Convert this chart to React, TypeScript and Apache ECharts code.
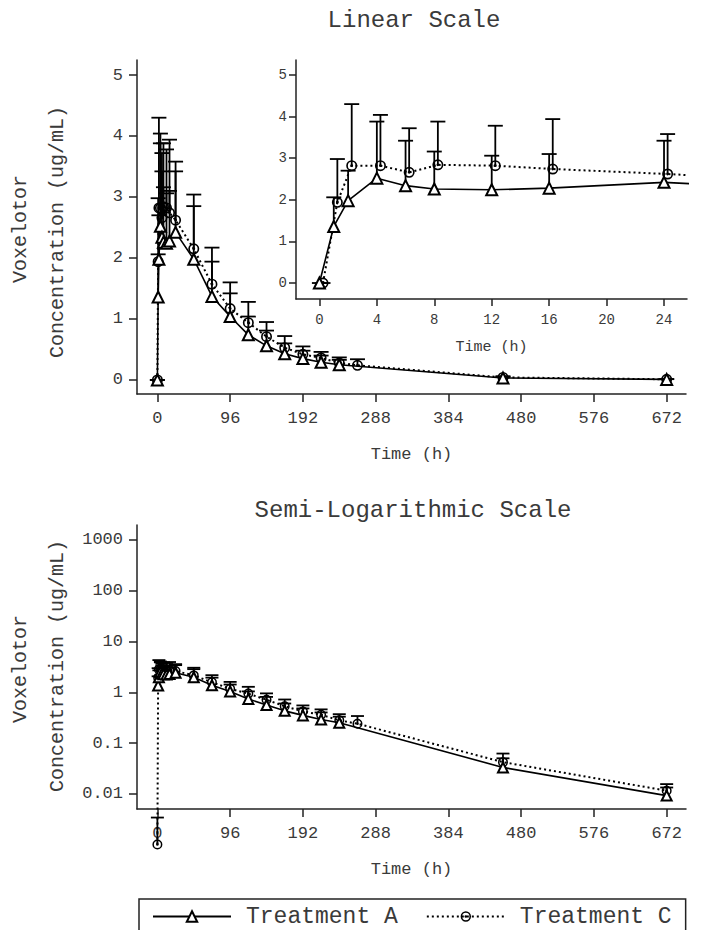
import React, { useEffect, useRef } from "react";
import * as echarts from "echarts";

// ---- Data (hours, ug/mL) ----
const timesA = [0, 1, 2, 4, 6, 8, 12, 16, 24, 48, 72, 96, 120, 144, 168, 192, 216, 240, 456, 672];
const meanA = [0, 1.36, 1.98, 2.52, 2.34, 2.26, 2.24, 2.28, 2.42, 1.98, 1.37, 1.04, 0.74, 0.56, 0.43, 0.35, 0.29, 0.25, 0.033, 0.0092];
const upperA = [0, 2.06, 2.7, 3.88, 3.42, 3.16, 3.06, 3.1, 3.42, 2.85, 1.94, 1.42, 1.04, 0.81, 0.6, 0.48, 0.4, 0.33, 0.05, 0.0133];

const timesC = [0, 1, 2, 4, 6, 8, 12, 16, 24, 48, 72, 96, 120, 144, 168, 192, 216, 240, 264, 456, 672];
const meanC = [0, 1.94, 2.82, 2.82, 2.66, 2.84, 2.82, 2.74, 2.62, 2.15, 1.57, 1.17, 0.94, 0.71, 0.53, 0.42, 0.36, 0.28, 0.24, 0.042, 0.0115];
const upperC = [0, 2.98, 4.3, 4.04, 3.72, 3.88, 3.78, 3.94, 3.58, 3.04, 2.17, 1.6, 1.28, 0.95, 0.72, 0.55, 0.46, 0.37, 0.34, 0.062, 0.0155];

// zero concentration of Treatment C as drawn on the semi-log panel
const logZeroC = 0.001;
const logZeroUpperC = 0.0034;

// display offset of Treatment C in the inset (h)
const insetOffsetC = 0.25;

// ticks
const mainTimeTicks = [0, 96, 192, 288, 384, 480, 576, 672];
const insetTimeTicks = [0, 4, 8, 12, 16, 20, 24];
const linearTicks = [0, 1, 2, 3, 4, 5];
const logTicks = [0.01, 0.1, 1, 10, 100, 1000];

const nameA = "Treatment A";
const nameC = "Treatment C";

const FONT = "'Liberation Mono', 'Courier New', monospace";
const TXT = "#3a3a3a";
const AX = "#222";

const ringDot =
  "path://M10,0A10,10,0,1,1,-10,0A10,10,0,1,1,10,0ZM7,0A7,7,0,1,0,-7,0A7,7,0,1,0,7,0ZM2.6,0A2.6,2.6,0,1,1,-2.6,0A2.6,2.6,0,1,1,2.6,0Z";

function pairs(t: number[], v: number[], off = 0) {
  return t.map((x, i) => [x + off, v[i]]);
}
function bars(t: number[], m: number[], u: number[], off = 0) {
  return t.map((x, i) => [x + off, m[i], u[i]]);
}
function logPairs(t: number[], v: number[], zero: number | null) {
  return t.map((x, i) => {
    const val = v[i] > 0 ? v[i] : zero;
    return val == null ? [x, null] : [x, Math.log10(val)];
  });
}
function logBars(t: number[], m: number[], u: number[], zero: number | null, zeroUp: number | null) {
  const out: any[] = [];
  t.forEach((x, i) => {
    if (m[i] > 0) out.push([x, Math.log10(m[i]), Math.log10(u[i])]);
    else if (zero != null && zeroUp != null) out.push([x, Math.log10(zero), Math.log10(zeroUp)]);
  });
  return out;
}

function xAxisCfg(gridIndex: number, min: number, max: number, ticks: number[], fs: number, nameFs: number, nameGap: number, margin: number, tickLen: number) {
  return {
    type: "value",
    gridIndex,
    min,
    max,
    name: "Time (h)",
    nameLocation: "middle",
    nameGap,
    nameTextStyle: { fontFamily: FONT, fontSize: nameFs, color: TXT },
    axisLine: { show: true, onZero: false, lineStyle: { color: AX, width: 1.5 } },
    axisTick: { show: true, length: tickLen, customValues: ticks, lineStyle: { color: AX, width: 1.5 } },
    axisLabel: { customValues: ticks, fontFamily: FONT, fontSize: fs, color: TXT, margin },
    splitLine: { show: false },
  };
}
function yAxisCfg(gridIndex: number, min: number, max: number, ticks: number[], fs: number, margin: number, tickLen: number, fmt?: (v: number) => string) {
  return {
    type: "value",
    gridIndex,
    min,
    max,
    axisLine: { show: true, onZero: false, lineStyle: { color: AX, width: 1.5 } },
    axisTick: { show: true, length: tickLen, customValues: ticks, lineStyle: { color: AX, width: 1.5 } },
    axisLabel: { customValues: ticks, fontFamily: FONT, fontSize: fs, color: TXT, margin, formatter: fmt },
    splitLine: { show: false },
  };
}

function errorBarSeries(xi: number, yi: number, data: any[], half: number, clip = true) {
  return {
    type: "custom",
    xAxisIndex: xi,
    yAxisIndex: yi,
    clip,
    z: 2,
    silent: true,
    encode: { x: 0, y: [1, 2] },
    data,
    renderItem: (params: any, api: any) => {
      const p1 = api.coord([api.value(0), api.value(1)]);
      const p2 = api.coord([api.value(0), api.value(2)]);
      const st = { stroke: "#000", lineWidth: 1.8 };
      return {
        type: "group",
        children: [
          { type: "line", shape: { x1: p1[0], y1: p1[1], x2: p2[0], y2: p2[1] }, style: st },
          { type: "line", shape: { x1: p2[0] - half, y1: p2[1], x2: p2[0] + half, y2: p2[1] }, style: st },
        ],
      };
    },
  };
}

function lineA(xi: number, yi: number, data: any[], clip = true, size = 11) {
  return {
    type: "line",
    name: nameA,
    xAxisIndex: xi,
    yAxisIndex: yi,
    data,
    clip,
    z: 4,
    symbol: "triangle",
    symbolSize: size,
    connectNulls: false,
    lineStyle: { color: "#000", width: 1.6, type: "solid" },
    itemStyle: { color: "#fff", borderColor: "#000", borderWidth: 2 },
  };
}
function lineC(xi: number, yi: number, data: any[], clip = true, size = 11) {
  return {
    type: "line",
    name: nameC,
    xAxisIndex: xi,
    yAxisIndex: yi,
    data,
    clip,
    z: 3,
    symbol: ringDot,
    symbolSize: size,
    lineStyle: { color: "#000", width: 2, type: [2, 3] },
    itemStyle: { color: "#000", borderWidth: 0 },
  };
}

export default function App() {
  const ref = useRef<HTMLDivElement>(null);
  useEffect(() => {
    if (!ref.current) return;
    const chart = echarts.init(ref.current, undefined, { renderer: "svg" });

    const logFmt = (v: number) => {
      const p = Math.pow(10, v);
      const found = logTicks.find((t) => Math.abs(Math.log10(t) - v) < 1e-6);
      return String(found ?? p);
    };

    const option: any = {
      animation: false,
      backgroundColor: "#fff",
      grid: [
        { left: 137, top: 60, width: 549, height: 334 },
        { left: 296, top: 60, width: 391, height: 239 },
        { left: 137, top: 525, width: 549, height: 284 },
      ],
      xAxis: [
        xAxisCfg(0, -26.9, 697.5, mainTimeTicks, 17, 17, 52, 16, 8),
        xAxisCfg(1, -1.63, 25.6, insetTimeTicks, 14, 15, 41, 14, 7),
        xAxisCfg(2, -26.9, 697.5, mainTimeTicks, 17, 17, 52, 16, 8),
      ],
      yAxis: [
        yAxisCfg(0, -0.23, 5.246, linearTicks, 17, 14, 8),
        yAxisCfg(1, -0.384, 5.36, linearTicks, 14, 9, 7),
        yAxisCfg(2, -2.3, 3.295, logTicks.map((t) => Math.log10(t)), 17, 14, 8, logFmt),
      ],
      legend: {
        data: [nameA, nameC],
        left: 139,
        top: 899,
        orient: "horizontal",
        padding: [6, 14, 4, 13],
        itemGap: 28,
        itemWidth: 78,
        itemHeight: 13,
        borderColor: "#222",
        borderWidth: 1.5,
        textStyle: { fontFamily: FONT, fontSize: 23, lineHeight: 22, color: TXT, padding: [0, 0, 0, 10] },
      },
      graphic: [
        { type: "text", x: 414, y: 20, style: { text: "Linear Scale", font: `24px ${FONT}`, fill: TXT, textAlign: "center", textVerticalAlign: "middle" } },
        { type: "text", x: 413, y: 510, style: { text: "Semi-Logarithmic Scale", font: `24px ${FONT}`, fill: TXT, textAlign: "center", textVerticalAlign: "middle" } },
        { type: "text", x: 20, y: 229, rotation: Math.PI / 2, style: { text: "Voxelotor", font: `20px ${FONT}`, fill: TXT, textAlign: "center", textVerticalAlign: "middle" } },
        { type: "text", x: 57, y: 232, rotation: Math.PI / 2, style: { text: "Concentration (ug/mL)", font: `20px ${FONT}`, fill: TXT, textAlign: "center", textVerticalAlign: "middle" } },
        { type: "text", x: 20, y: 669, rotation: Math.PI / 2, style: { text: "Voxelotor", font: `20px ${FONT}`, fill: TXT, textAlign: "center", textVerticalAlign: "middle" } },
        { type: "text", x: 57, y: 666, rotation: Math.PI / 2, style: { text: "Concentration (ug/mL)", font: `20px ${FONT}`, fill: TXT, textAlign: "center", textVerticalAlign: "middle" } },
      ],
      series: [
        // main linear
        errorBarSeries(0, 0, bars(timesA, meanA, upperA), 7.5),
        errorBarSeries(0, 0, bars(timesC, meanC, upperC), 7.5),
        lineA(0, 0, pairs(timesA, meanA)),
        lineC(0, 0, pairs(timesC, meanC)),
        // inset
        errorBarSeries(1, 1, bars(timesA, meanA, upperA), 7.5, false),
        errorBarSeries(1, 1, bars(timesC, meanC, upperC, insetOffsetC), 7.5, false),
        lineA(1, 1, pairs(timesA, meanA), false),
        lineC(1, 1, pairs(timesC, meanC, insetOffsetC), false),
        // semi-log
        errorBarSeries(2, 2, logBars(timesA, meanA, upperA, null, null), 6.5, false),
        errorBarSeries(2, 2, logBars(timesC, meanC, upperC, logZeroC, logZeroUpperC), 6.5, false),
        lineA(2, 2, logPairs(timesA, meanA, null), true, 10),
        lineC(2, 2, logPairs(timesC, meanC, logZeroC), false, 10),
      ],
    };
    chart.setOption(option);
    return () => chart.dispose();
  }, []);

  return <div ref={ref} style={{ position: "fixed", left: 0, top: 0, width: 711, height: 930 }} />;
}
